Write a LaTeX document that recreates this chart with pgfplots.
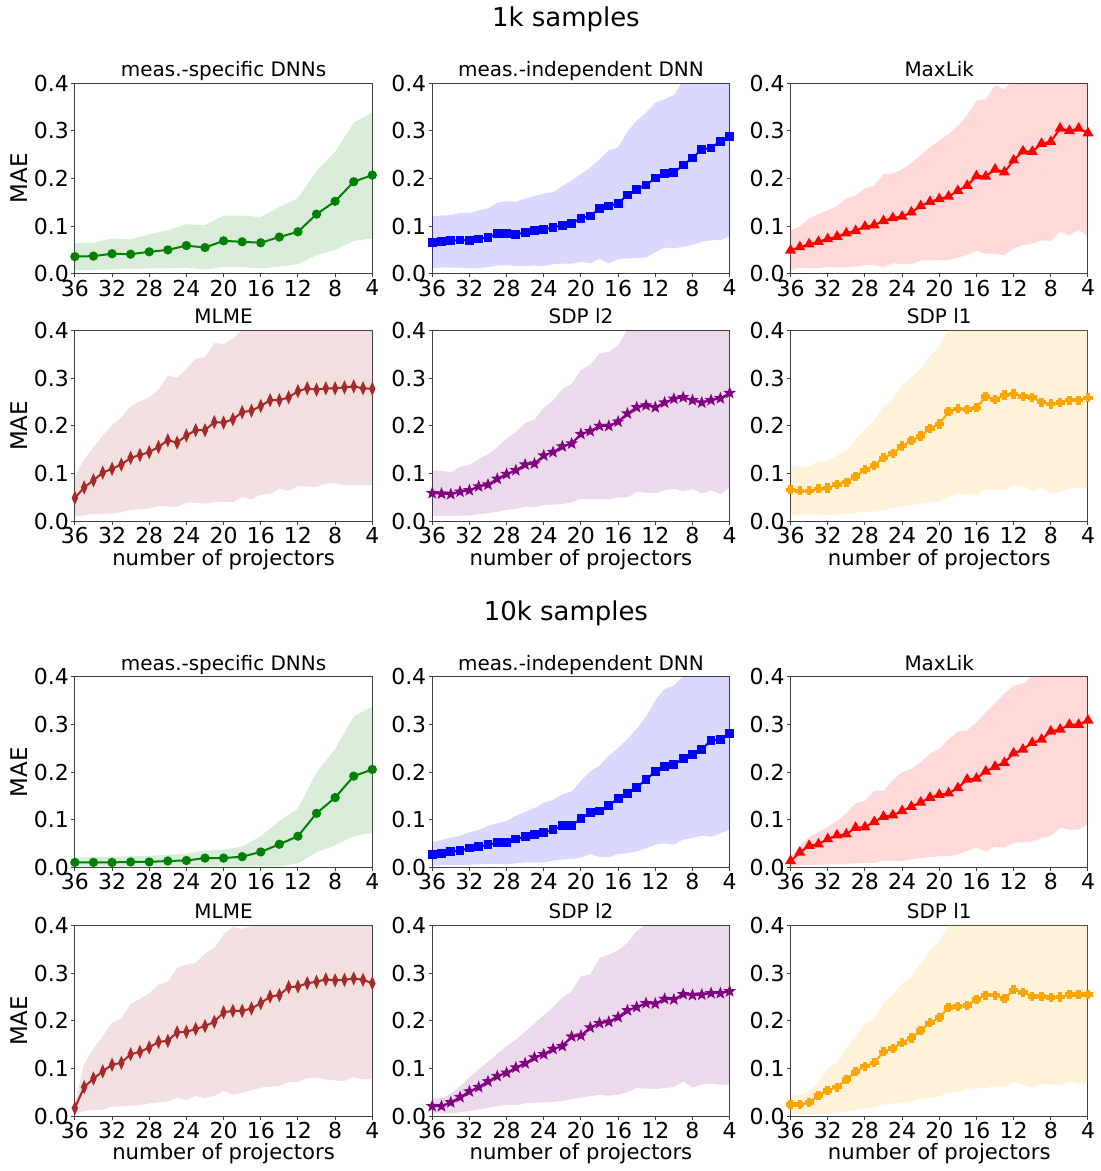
\documentclass[border=0pt]{standalone}
\usepackage{fontspec}
\setmainfont{DejaVu Sans}
\usepackage{pgfplots}
\usepackage{pgfplotstable}
\pgfplotsset{compat=1.18}

\definecolor{mgreen}{HTML}{008000}
\definecolor{mblue}{HTML}{0000FF}
\definecolor{mred}{HTML}{FF0000}
\definecolor{mbrown}{HTML}{A52A2A}
\definecolor{mpurple}{HTML}{800080}
\definecolor{morange}{HTML}{FFA500}

\pgfdeclareplotmark{fstar}{%
  \pgfpathmoveto{\pgfpointpolar{90}{\pgfplotmarksize}}%
  \pgfpathlineto{\pgfpointpolar{126}{0.42\pgfplotmarksize}}%
  \pgfpathlineto{\pgfpointpolar{162}{\pgfplotmarksize}}%
  \pgfpathlineto{\pgfpointpolar{198}{0.42\pgfplotmarksize}}%
  \pgfpathlineto{\pgfpointpolar{234}{\pgfplotmarksize}}%
  \pgfpathlineto{\pgfpointpolar{270}{0.42\pgfplotmarksize}}%
  \pgfpathlineto{\pgfpointpolar{306}{\pgfplotmarksize}}%
  \pgfpathlineto{\pgfpointpolar{342}{0.42\pgfplotmarksize}}%
  \pgfpathlineto{\pgfpointpolar{18}{\pgfplotmarksize}}%
  \pgfpathlineto{\pgfpointpolar{54}{0.42\pgfplotmarksize}}%
  \pgfpathclose
  \pgfusepathqfillstroke}
\pgfdeclareplotmark{fplus}{%
  \pgfpathmoveto{\pgfpoint{-0.35\pgfplotmarksize}{\pgfplotmarksize}}%
  \pgfpathlineto{\pgfpoint{0.35\pgfplotmarksize}{\pgfplotmarksize}}%
  \pgfpathlineto{\pgfpoint{0.35\pgfplotmarksize}{0.35\pgfplotmarksize}}%
  \pgfpathlineto{\pgfpoint{\pgfplotmarksize}{0.35\pgfplotmarksize}}%
  \pgfpathlineto{\pgfpoint{\pgfplotmarksize}{-0.35\pgfplotmarksize}}%
  \pgfpathlineto{\pgfpoint{0.35\pgfplotmarksize}{-0.35\pgfplotmarksize}}%
  \pgfpathlineto{\pgfpoint{0.35\pgfplotmarksize}{-\pgfplotmarksize}}%
  \pgfpathlineto{\pgfpoint{-0.35\pgfplotmarksize}{-\pgfplotmarksize}}%
  \pgfpathlineto{\pgfpoint{-0.35\pgfplotmarksize}{-0.35\pgfplotmarksize}}%
  \pgfpathlineto{\pgfpoint{-\pgfplotmarksize}{-0.35\pgfplotmarksize}}%
  \pgfpathlineto{\pgfpoint{-\pgfplotmarksize}{0.35\pgfplotmarksize}}%
  \pgfpathlineto{\pgfpoint{-0.35\pgfplotmarksize}{0.35\pgfplotmarksize}}%
  \pgfpathclose
  \pgfusepathqfillstroke}

% ---------------- data: x, mean, lower, upper ----------------
\pgfplotstableread{
x m lo hi
36 0.036 0.008 0.064
34 0.037 0.008 0.065
32 0.042 0.009 0.074
30 0.041 0.010 0.072
28 0.046 0.011 0.083
26 0.050 0.011 0.091
24 0.059 0.013 0.104
22 0.055 0.009 0.102
20 0.069 0.014 0.122
18 0.067 0.014 0.122
16 0.065 0.011 0.119
14 0.077 0.015 0.140
12 0.088 0.020 0.158
10 0.125 0.039 0.216
8 0.152 0.050 0.256
6 0.193 0.069 0.317
4 0.207 0.074 0.338
}\tA
\pgfplotstableread{
x m lo hi
36 0.066 0.011 0.121
35 0.067 0.013 0.122
34 0.069 0.013 0.123
33 0.071 0.013 0.128
32 0.070 0.011 0.127
31 0.073 0.012 0.133
30 0.076 0.014 0.137
29 0.084 0.017 0.149
28 0.085 0.018 0.152
27 0.083 0.016 0.151
26 0.086 0.016 0.158
25 0.090 0.017 0.163
24 0.093 0.016 0.168
23 0.097 0.020 0.171
22 0.102 0.021 0.184
21 0.106 0.021 0.196
20 0.116 0.025 0.209
19 0.121 0.022 0.223
18 0.137 0.031 0.240
17 0.142 0.022 0.259
16 0.148 0.031 0.265
15 0.165 0.032 0.298
14 0.177 0.033 0.321
13 0.186 0.034 0.338
12 0.201 0.045 0.359
11 0.211 0.055 0.366
10 0.212 0.053 0.375
9 0.228 0.057 0.405
8 0.243 0.060 0.43
7 0.261 0.067 0.45
6 0.264 0.070 0.46
5 0.278 0.071 0.48
4 0.288 0.078 0.50
}\tB
\pgfplotstableread{
x m lo hi
36 0.049 0.007 0.091
35 0.056 0.013 0.100
34 0.062 0.011 0.116
33 0.067 0.012 0.125
32 0.073 0.014 0.133
31 0.078 0.014 0.142
30 0.085 0.014 0.158
29 0.090 0.015 0.164
28 0.099 0.018 0.179
27 0.102 0.018 0.185
26 0.111 0.014 0.209
25 0.117 0.022 0.210
24 0.120 0.020 0.219
23 0.129 0.020 0.233
22 0.142 0.028 0.249
21 0.151 0.028 0.265
20 0.157 0.028 0.280
19 0.162 0.029 0.293
18 0.174 0.034 0.310
17 0.185 0.039 0.333
16 0.205 0.048 0.363
15 0.204 0.042 0.366
14 0.219 0.042 0.396
13 0.213 0.039 0.387
12 0.238 0.053 0.41
11 0.257 0.060 0.43
10 0.256 0.063 0.44
9 0.273 0.070 0.46
8 0.277 0.069 0.47
7 0.305 0.088 0.50
6 0.300 0.081 0.50
5 0.305 0.092 0.50
4 0.295 0.079 0.50
}\tC
\pgfplotstableread{
x m lo hi
36 0.049 0.010 0.093
35 0.071 0.013 0.130
34 0.086 0.015 0.155
33 0.102 0.016 0.180
32 0.110 0.016 0.201
31 0.119 0.019 0.218
30 0.133 0.024 0.241
29 0.139 0.025 0.252
28 0.145 0.027 0.260
27 0.156 0.032 0.276
26 0.170 0.031 0.306
25 0.165 0.030 0.301
24 0.180 0.039 0.320
23 0.191 0.039 0.341
22 0.191 0.037 0.344
21 0.208 0.040 0.374
20 0.207 0.041 0.372
19 0.214 0.040 0.383
18 0.229 0.051 0.402
17 0.232 0.046 0.42
16 0.242 0.056 0.44
15 0.254 0.057 0.45
14 0.254 0.068 0.46
13 0.260 0.064 0.47
12 0.273 0.074 0.48
11 0.279 0.073 0.49
10 0.276 0.072 0.50
9 0.279 0.079 0.50
8 0.279 0.080 0.50
7 0.281 0.075 0.50
6 0.283 0.076 0.50
5 0.279 0.076 0.50
4 0.278 0.076 0.50
}\tD
\pgfplotstableread{
x m lo hi
36 0.059 0.011 0.107
35 0.058 0.011 0.106
34 0.057 0.011 0.103
33 0.062 0.012 0.114
32 0.065 0.012 0.119
31 0.073 0.015 0.130
30 0.077 0.017 0.140
29 0.089 0.020 0.156
28 0.099 0.024 0.173
27 0.107 0.026 0.187
26 0.119 0.031 0.207
25 0.121 0.029 0.213
24 0.138 0.034 0.238
23 0.145 0.035 0.253
22 0.157 0.036 0.277
21 0.163 0.040 0.288
20 0.183 0.047 0.318
19 0.189 0.047 0.328
18 0.200 0.047 0.353
17 0.200 0.046 0.355
16 0.209 0.050 0.369
15 0.226 0.050 0.402
14 0.239 0.062 0.43
13 0.243 0.060 0.44
12 0.239 0.059 0.45
11 0.249 0.065 0.46
10 0.257 0.068 0.47
9 0.260 0.063 0.48
8 0.254 0.068 0.49
7 0.249 0.058 0.50
6 0.254 0.065 0.50
5 0.258 0.057 0.50
4 0.269 0.071 0.50
}\tE
\pgfplotstableread{
x m lo hi
36 0.066 0.013 0.117
35 0.064 0.014 0.115
34 0.064 0.014 0.114
33 0.068 0.013 0.126
32 0.070 0.013 0.126
31 0.077 0.014 0.138
30 0.082 0.016 0.149
29 0.094 0.018 0.170
28 0.108 0.020 0.194
27 0.117 0.021 0.212
26 0.133 0.023 0.241
25 0.142 0.027 0.257
24 0.158 0.031 0.285
23 0.169 0.034 0.302
22 0.179 0.037 0.320
21 0.195 0.040 0.348
20 0.204 0.041 0.366
19 0.230 0.051 0.402
18 0.236 0.058 0.43
17 0.234 0.057 0.45
16 0.238 0.054 0.46
15 0.262 0.068 0.47
14 0.255 0.066 0.48
13 0.265 0.065 0.49
12 0.267 0.076 0.50
11 0.262 0.072 0.50
10 0.260 0.065 0.50
9 0.250 0.070 0.50
8 0.246 0.059 0.50
7 0.249 0.061 0.50
6 0.254 0.069 0.50
5 0.254 0.070 0.50
4 0.259 0.070 0.50
}\tF
\pgfplotstableread{
x m lo hi
36 0.011 0.003 0.021
34 0.011 0.002 0.022
32 0.011 0.002 0.023
30 0.012 0.002 0.024
28 0.012 0.002 0.025
26 0.014 0.002 0.027
24 0.015 0.002 0.029
22 0.020 0.002 0.036
20 0.020 0.002 0.038
18 0.023 0.002 0.044
16 0.033 0.002 0.066
14 0.049 0.003 0.098
12 0.066 0.009 0.124
10 0.114 0.032 0.200
8 0.147 0.047 0.249
6 0.192 0.066 0.317
4 0.206 0.073 0.338
}\tG
\pgfplotstableread{
x m lo hi
36 0.027 0.005 0.053
35 0.030 0.005 0.058
34 0.034 0.006 0.063
33 0.036 0.006 0.067
32 0.041 0.006 0.074
31 0.044 0.007 0.079
30 0.048 0.008 0.088
29 0.052 0.008 0.093
28 0.053 0.007 0.098
27 0.060 0.009 0.109
26 0.065 0.011 0.117
25 0.069 0.011 0.125
24 0.073 0.011 0.136
23 0.080 0.015 0.142
22 0.088 0.017 0.154
21 0.088 0.018 0.160
20 0.103 0.021 0.182
19 0.116 0.029 0.202
18 0.119 0.022 0.214
17 0.131 0.022 0.235
16 0.145 0.029 0.251
15 0.155 0.030 0.270
14 0.168 0.034 0.291
13 0.185 0.040 0.317
12 0.201 0.048 0.351
11 0.213 0.051 0.375
10 0.216 0.048 0.382
9 0.229 0.059 0.402
8 0.238 0.062 0.42
7 0.248 0.067 0.44
6 0.267 0.065 0.46
5 0.269 0.072 0.48
4 0.282 0.080 0.50
}\tH
\pgfplotstableread{
x m lo hi
36 0.014 0.003 0.021
35 0.032 0.005 0.046
34 0.046 0.006 0.065
33 0.049 0.006 0.074
32 0.060 0.007 0.086
31 0.068 0.007 0.098
30 0.070 0.008 0.114
29 0.084 0.009 0.135
28 0.085 0.010 0.140
27 0.096 0.010 0.161
26 0.107 0.015 0.161
25 0.110 0.014 0.184
24 0.119 0.014 0.200
23 0.128 0.017 0.207
22 0.137 0.020 0.221
21 0.147 0.022 0.239
20 0.153 0.024 0.249
19 0.156 0.024 0.270
18 0.167 0.028 0.286
17 0.185 0.035 0.288
16 0.187 0.042 0.305
15 0.202 0.034 0.326
14 0.212 0.044 0.345
13 0.220 0.042 0.365
12 0.240 0.052 0.382
11 0.248 0.053 0.386
10 0.262 0.055 0.402
9 0.269 0.062 0.42
8 0.286 0.066 0.44
7 0.290 0.084 0.46
6 0.300 0.079 0.48
5 0.300 0.080 0.50
4 0.309 0.091 0.50
}\tI
\pgfplotstableread{
x m lo hi
36 0.017 0.006 0.029
35 0.061 0.011 0.109
34 0.079 0.013 0.142
33 0.094 0.014 0.168
32 0.108 0.020 0.196
31 0.112 0.020 0.205
30 0.130 0.022 0.236
29 0.135 0.023 0.246
28 0.144 0.027 0.258
27 0.156 0.029 0.276
26 0.158 0.031 0.282
25 0.176 0.039 0.311
24 0.177 0.034 0.318
23 0.183 0.043 0.322
22 0.189 0.038 0.341
21 0.198 0.043 0.353
20 0.218 0.053 0.381
19 0.221 0.045 0.397
18 0.221 0.049 0.393
17 0.226 0.054 0.399
16 0.237 0.060 0.42
15 0.251 0.062 0.43
14 0.254 0.064 0.44
13 0.271 0.071 0.45
12 0.272 0.072 0.46
11 0.279 0.080 0.47
10 0.282 0.081 0.48
9 0.287 0.077 0.49
8 0.285 0.075 0.50
7 0.286 0.074 0.50
6 0.289 0.082 0.50
5 0.286 0.077 0.50
4 0.279 0.077 0.50
}\tJ
\pgfplotstableread{
x m lo hi
36 0.021 0.006 0.038
35 0.021 0.006 0.038
34 0.029 0.006 0.047
33 0.040 0.008 0.063
32 0.052 0.011 0.081
31 0.061 0.014 0.098
30 0.073 0.018 0.114
29 0.084 0.021 0.131
28 0.091 0.024 0.147
27 0.102 0.023 0.161
26 0.111 0.027 0.177
25 0.123 0.028 0.194
24 0.130 0.029 0.212
23 0.141 0.030 0.228
22 0.147 0.032 0.249
21 0.167 0.036 0.262
20 0.169 0.039 0.294
19 0.186 0.042 0.297
18 0.195 0.045 0.332
17 0.198 0.043 0.339
16 0.208 0.045 0.348
15 0.222 0.050 0.364
14 0.229 0.059 0.388
13 0.237 0.058 0.402
12 0.236 0.057 0.42
11 0.246 0.059 0.44
10 0.245 0.061 0.45
9 0.256 0.073 0.46
8 0.254 0.060 0.47
7 0.255 0.066 0.48
6 0.258 0.068 0.49
5 0.258 0.066 0.50
4 0.262 0.066 0.50
}\tK
\pgfplotstableread{
x m lo hi
36 0.024 0.004 0.043
35 0.024 0.005 0.044
34 0.029 0.005 0.053
33 0.043 0.005 0.071
32 0.054 0.006 0.101
31 0.061 0.008 0.112
30 0.077 0.010 0.144
29 0.093 0.013 0.168
28 0.105 0.017 0.196
27 0.112 0.018 0.203
26 0.135 0.025 0.238
25 0.142 0.026 0.254
24 0.154 0.027 0.278
23 0.164 0.031 0.292
22 0.180 0.036 0.322
21 0.196 0.039 0.348
20 0.207 0.042 0.367
19 0.228 0.050 0.402
18 0.230 0.051 0.42
17 0.232 0.057 0.44
16 0.245 0.059 0.45
15 0.254 0.059 0.46
14 0.254 0.064 0.47
13 0.247 0.061 0.48
12 0.265 0.072 0.49
11 0.260 0.066 0.50
10 0.251 0.060 0.50
9 0.251 0.068 0.50
8 0.249 0.067 0.50
7 0.250 0.063 0.50
6 0.255 0.073 0.50
5 0.255 0.068 0.50
4 0.255 0.070 0.50
}\tL

\pgfplotsset{
  common/.style={
    scale only axis, width=149pt, height=95.5pt, anchor=south west,
    xmin=4, xmax=36, x dir=reverse, ymin=0, ymax=0.4,
    xtick={4,8,12,16,20,24,28,32,36},
    ytick={0,0.1,0.2,0.3,0.4},
    yticklabel style={/pgf/number format/.cd, fixed, fixed zerofill, precision=1},
    /pgf/number format/assume math mode=true,
    tick label style={font=\fontsize{11}{13}\selectfont, inner sep=1pt},
    tick align=outside, major tick length=1.8pt,
    xtick pos=bottom, ytick pos=left,
    tick style={black!75, line width=0.5pt},
    axis line style={black!75, line width=0.5pt},
    every axis title/.style={at={(0.5,1)}, anchor=base, yshift=3.5pt, font=\fontsize{10}{12}\selectfont},
  },
  xl/.style={xlabel={number of projectors}, every axis x label/.style={at={(axis description cs:0.5,0)}, anchor=center, yshift=-19pt, font=\fontsize{10.6}{12}\selectfont}},
  yl/.style={ylabel={MAE}, every axis y label/.style={at={(axis description cs:-0.188,0.5)}, anchor=center, rotate=90, font=\fontsize{11.5}{13}\selectfont}},
}

\newcommand{\panel}[6]{%
\begin{axis}[common, at={#1}, title={#5}, #6]
\addplot[draw=none, stack plots=y, forget plot] table[x=x,y=lo]{#2};
\addplot[fill=#3, fill opacity=0.15, draw=none, stack plots=y] table[x=x, y expr=\thisrow{hi}-\thisrow{lo}]{#2} \closedcycle;
\addplot[color=#3, line width=1pt, stack plots=false, #4] table[x=x,y=m]{#2};
\end{axis}}

\begin{document}
\begin{tikzpicture}
\path (0pt,0pt) rectangle (551.5pt,-585.5pt);
\node[font=\fontsize{13}{15}\selectfont] at (283.5pt,-9pt) {1k samples};
\node[font=\fontsize{13}{15}\selectfont] at (283.5pt,-306.5pt) {10k samples};

\panel{(37.5pt,-136.5pt)}{\tA}{mgreen}{mark=*, mark size=1.8pt}{meas.-specific DNNs}{yl}
\panel{(216.5pt,-136.5pt)}{\tB}{mblue}{mark=square*, mark size=1.7pt}{meas.-independent DNN}{}
\panel{(396pt,-136.5pt)}{\tC}{mred}{mark=triangle*, mark size=2.2pt}{MaxLik}{}
\panel{(37.5pt,-260.5pt)}{\tD}{mbrown}{mark=diamond*, mark size=2.4pt, mark options={xscale=0.6}}{MLME}{yl, xl}
\panel{(216.5pt,-260.5pt)}{\tE}{mpurple}{mark=fstar, mark size=1.9pt}{SDP l2}{xl}
\panel{(396pt,-260.5pt)}{\tF}{morange}{mark=fplus, mark size=1.8pt}{SDP l1}{xl}

\panel{(37.5pt,-434pt)}{\tG}{mgreen}{mark=*, mark size=1.8pt}{meas.-specific DNNs}{yl}
\panel{(216.5pt,-434pt)}{\tH}{mblue}{mark=square*, mark size=1.7pt}{meas.-independent DNN}{}
\panel{(396pt,-434pt)}{\tI}{mred}{mark=triangle*, mark size=2.2pt}{MaxLik}{}
\panel{(37.5pt,-558.5pt)}{\tJ}{mbrown}{mark=diamond*, mark size=2.4pt, mark options={xscale=0.6}}{MLME}{yl, xl}
\panel{(216.5pt,-558.5pt)}{\tK}{mpurple}{mark=fstar, mark size=1.9pt}{SDP l2}{xl}
\panel{(396pt,-558.5pt)}{\tL}{morange}{mark=fplus, mark size=1.8pt}{SDP l1}{xl}
\end{tikzpicture}
\end{document}
